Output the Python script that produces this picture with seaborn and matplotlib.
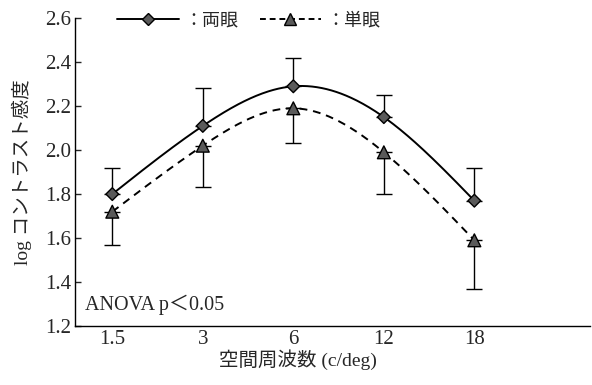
import numpy as np
import pandas as pd
import matplotlib
matplotlib.use('Agg')
import matplotlib.pyplot as plt
import seaborn as sns
from matplotlib.lines import Line2D

# データ
freqs = ['1.5', '3', '6', '12', '18']
binoc = [1.80, 2.11, 2.29, 2.15, 1.77]
binoc_err = [0.12, 0.17, 0.13, 0.10, 0.15]     # 上側のみ
monoc = [1.72, 2.02, 2.19, 1.99, 1.59]
monoc_err = [0.15, 0.19, 0.16, 0.19, 0.22]     # 下側のみ

sns.set_style('ticks')
plt.rcParams['font.family'] = ['Liberation Serif', 'Noto Sans CJK JP']
plt.rcParams['axes.unicode_minus'] = False

fig = plt.figure(figsize=(5.92, 3.85), dpi=100)
ax = fig.add_axes([0.127, 0.153, 0.87, 0.8])

x = np.arange(len(freqs))
df = pd.DataFrame({'x': np.tile(x, 2), 'y': binoc + monoc,
                   'kind': ['両眼'] * 5 + ['単眼'] * 5})


def smooth(xs, ys):
    # 描画用の滑らかな曲線 (自然3次スプライン)
    xs = np.asarray(xs, float)
    ys = np.asarray(ys, float)
    n = len(xs)
    h = np.diff(xs)
    A = np.zeros((n, n))
    b = np.zeros(n)
    A[0, 0] = A[-1, -1] = 1
    for i in range(1, n - 1):
        A[i, i - 1] = h[i - 1]
        A[i, i] = 2 * (h[i - 1] + h[i])
        A[i, i + 1] = h[i]
        b[i] = 6 * ((ys[i + 1] - ys[i]) / h[i] - (ys[i] - ys[i - 1]) / h[i - 1])
    M = np.linalg.solve(A, b)
    xx = np.linspace(xs[0], xs[-1], 300)
    k = np.clip(np.searchsorted(xs, xx) - 1, 0, n - 2)
    t0 = xs[k + 1] - xx
    t1 = xx - xs[k]
    hk = h[k]
    yy = (M[k] * t0 ** 3 / (6 * hk) + M[k + 1] * t1 ** 3 / (6 * hk)
          + (ys[k] / hk - M[k] * hk / 6) * t0 + (ys[k + 1] / hk - M[k + 1] * hk / 6) * t1)
    return xx, yy


xs, ys = smooth(x, binoc)
sns.lineplot(x=xs, y=ys, ax=ax, color='black', lw=1.4)
xs, ys = smooth(x, monoc)
sns.lineplot(x=xs, y=ys, ax=ax, color='black', lw=1.4, linestyle=(0, (4, 3)))

ax.errorbar(x, binoc, yerr=[np.zeros(5), binoc_err], fmt='none',
            ecolor='black', elinewidth=1.0, capsize=6, capthick=1.0)
ax.errorbar(x, monoc, yerr=[monoc_err, np.zeros(5)], fmt='none',
            ecolor='black', elinewidth=1.0, capsize=6, capthick=1.0)

sns.scatterplot(data=df, x='x', y='y', style='kind', markers={'両眼': 'D', '単眼': '^'},
                ax=ax, color='#5a5a5a', edgecolor='black', linewidth=1.0,
                legend=False, zorder=5)
ax.collections[-1].set_sizes([42] * 5 + [85] * 5)

ax.set_xlim(-0.41, 5.28)
ax.set_ylim(1.2, 2.6)
ax.set_xticks(x)
ax.set_xticklabels(freqs)
ax.set_yticks(np.arange(1.2, 2.61, 0.2))
ax.set_yticklabels([f'{v:.1f}' for v in np.arange(1.2, 2.61, 0.2)])
ax.tick_params(axis='y', direction='in', length=4, width=1, labelsize=15, pad=3)
ax.tick_params(axis='x', length=0, labelsize=15, pad=3)
sns.despine(ax=ax)
for s in ['left', 'bottom']:
    ax.spines[s].set_linewidth(1.0)
    ax.spines[s].set_color('black')

ax.set_xlabel('空間周波数 (c/deg)', fontsize=14)
ax.xaxis.set_label_coords(0.433, -0.075, transform=ax.transAxes)
ax.xaxis.label.set_va('top')
ax.set_ylabel('log コントラスト感度', fontsize=14, labelpad=9)

ax.text(0.02, 0.035, 'ANOVA p＜0.05', transform=ax.transAxes, fontsize=14.5,
        ha='left', va='bottom')

handles = [
    Line2D([], [], color='black', lw=1.4, marker='D', markersize=6.5,
           markerfacecolor='#5a5a5a', markeredgecolor='black'),
    Line2D([], [], color='black', lw=1.4, linestyle=(0, (3, 2)), marker='^',
           markersize=9, markerfacecolor='#5a5a5a', markeredgecolor='black'),
]
ax.legend(handles, ['：両眼', '：単眼'], ncol=2, frameon=False, loc='upper left',
          bbox_to_anchor=(0.05, 1.07), handlelength=3.4, columnspacing=1.2,
          handletextpad=0.3, fontsize=13)

fig.savefig('out.png', dpi=100)
